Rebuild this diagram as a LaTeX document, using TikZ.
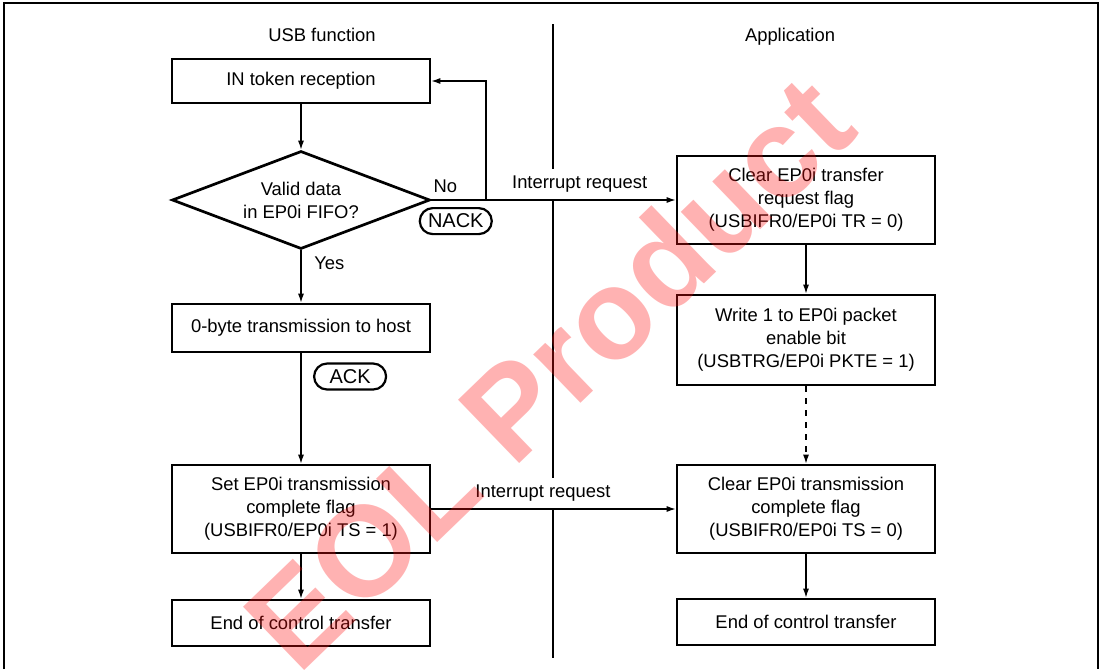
\documentclass[tikz,border=0pt]{standalone}
\usepackage{fontspec}
\setmainfont{Liberation Sans}
\usetikzlibrary{arrows.meta,positioning,shapes.geometric}
\definecolor{wmred}{HTML}{FF1010}
\tikzset{>={Latex[length=4.5pt,width=3pt]},
  every node/.style={font=\fontsize{9.2}{11.5}\selectfont},
  box/.style={draw,line width=1.35pt,align=center,inner sep=2pt,minimum width=129pt},
  decision/.style={draw,diamond,line width=1.35pt,align=center,inner sep=0pt,aspect=2.6,
    minimum width=129pt,minimum height=49pt},
  flow/.style={->,line width=.6pt},
  dflow/.style={flow,dashed},
  ackbox/.style={draw,line width=1.1pt,rounded corners=6.5pt,minimum width=36pt,
    minimum height=13pt,inner sep=1.5pt,font=\fontsize{10}{12}\selectfont},
  irqlabel/.style={above,fill=white,yshift=.4pt},
  divider/.style={line width=.6pt},
  frame/.style={line width=1.1pt},
  watermark/.style={rotate=44,text=wmred,opacity=.32,text opacity=.32,inner sep=0pt,
    font=\fontsize{64}{64}\selectfont\bfseries}}
\begin{document}
\begin{tikzpicture}[x=.5pt,y=-.5pt]
\useasboundingbox (0,0) rectangle (1102,669);
\draw[frame] (4,669)--(4,3)--(1098,3)--(1098,669);
\draw[divider] (553,24)--(553,658);
\node[anchor=base] (usbf) at (322,41) {USB function};\node[anchor=base] (appl) at (790,41) {Application};
\node[box,minimum height=22pt] (intok) at (301,81) {IN token reception};
\node[decision] (valid) at (301,200) {Valid data\\in EP0i FIFO?};
\node[box,minimum height=24pt] (zero) at (301,328) {0-byte transmission to host};
\node[box,minimum height=44pt] (setts) at (301,509) {Set EP0i transmission\\complete flag\\(USBIFR0/EP0i TS = 1)};
\node[box,minimum height=23pt] (endl) at (301,623) {End of control transfer};
\node[box,minimum height=44pt] (clrtr) at (806,200) {Clear EP0i transfer\\request flag\\(USBIFR0/EP0i TR = 0)};
\node[box,minimum height=45pt] (pkte) at (806,340) {Write 1 to EP0i packet\\enable bit\\(USBTRG/EP0i PKTE = 1)};
\node[box,minimum height=44pt] (clrts) at (806,509) {Clear EP0i transmission\\complete flag\\(USBIFR0/EP0i TS = 0)};
\node[box,minimum height=23pt] (endr) at (806,622) {End of control transfer};
\coordinate (turn) at (486,200);
\draw[flow] (intok)--(valid);
\draw[flow] (valid)--node[pos=.25,right,xshift=3pt] (yes) {Yes} (zero);
\draw[flow] (valid.east)--node[pos=.057,above] (no) {No}
  node[pos=.1,ackbox,below=3.5pt] (nack) {NACK}
  node[pos=.607,irqlabel] (irqa) {Interrupt request} (clrtr.west);
\draw[flow] (turn)|-(intok.east);
\draw[flow] (zero)--node[pos=.21,ackbox,right=6pt] (ack) {ACK} (setts);
\draw[flow] (setts)--(endl);
\draw[flow] (setts.east)--node[pos=.457,irqlabel] (irqb) {Interrupt request} (clrts.west);
\draw[flow] (clrtr)--(pkte);
\draw[dflow] (pkte)--(clrts);
\draw[flow] (clrts)--(endr);
\node[watermark] (eol) at (548,372) {EOL Product};
\end{tikzpicture}
\end{document}
